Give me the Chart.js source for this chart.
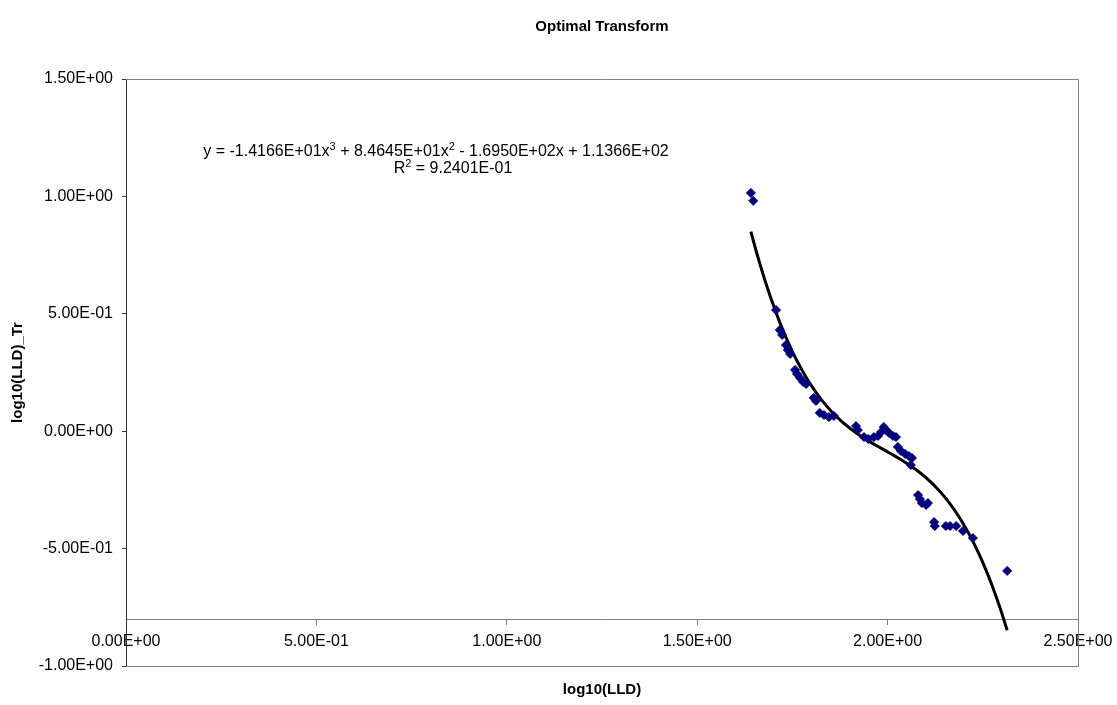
<!DOCTYPE html>
<html lang="en">
<head>
<meta charset="UTF-8">
<title>Optimal Transform</title>
<script src="https://cdn.jsdelivr.net/npm/chart.js@4.4.0/dist/chart.umd.min.js"></script>
<style>
  html, body { margin: 0; padding: 0; background: #fff; }
  #wrap { width: 1117px; height: 705px; }
</style>
</head>
<body>
<div id="wrap"><canvas id="chart" width="1117" height="705"></canvas></div>
<script>
var lldX = [1.641, 1.647, 1.707, 1.717, 1.723, 1.733, 1.738, 1.744, 1.757, 1.762,
            1.770, 1.778, 1.786, 1.806, 1.812, 1.822, 1.833, 1.846, 1.859, 1.917,
            1.922, 1.938, 1.949, 1.964, 1.975, 1.983, 1.990, 1.996, 2.004, 2.014,
            2.022, 2.027, 2.035, 2.046, 2.056, 2.064, 2.061, 2.080, 2.085, 2.090,
            2.101, 2.106, 2.122, 2.124, 2.153, 2.164, 2.180, 2.198, 2.224, 2.314];
var lldTr = [1.015, 0.981, 0.516, 0.431, 0.410, 0.367, 0.346, 0.329, 0.261, 0.244,
             0.227, 0.210, 0.201, 0.142, 0.129, 0.078, 0.069, 0.060, 0.065, 0.022,
             0.005, -0.025, -0.033, -0.025, -0.020, -0.003, 0.018, 0.005, -0.008, -0.020,
             -0.025, -0.067, -0.084, -0.097, -0.106, -0.114, -0.144, -0.272, -0.289, -0.306,
             -0.314, -0.306, -0.387, -0.404, -0.404, -0.404, -0.404, -0.425, -0.455, -0.595];

// polynomial trendline as printed on the chart: x^3, x^2, x, const
var fitCoef = [-14.166, 84.645, -169.50, 113.66];
var fitFrom = 1.641, fitTo = 2.314;

var xTickLabels = ['0.00E+00', '5.00E-01', '1.00E+00', '1.50E+00', '2.00E+00', '2.50E+00'];
var yTickLabels = ['-1.00E+00', '-5.00E-01', '0.00E+00', '5.00E-01', '1.00E+00', '1.50E+00'];

// equation text, split into normal / superscript runs
var eqRuns = [['y = -1.4166E+01x', 0], ['3', 1], [' + 8.4645E+01x', 0], ['2', 1],
              [' - 1.6950E+02x + 1.1366E+02', 0]];
var r2Runs = [['R', 0], ['2', 1], [' = 9.2401E-01', 0]];

var points = [];
for (var i = 0; i < lldX.length; i++) {
    points.push({x: lldX[i], y: lldTr[i]});
}

var trend = [];
var steps = 80;
for (var s = 0; s <= steps; s++) {
    var x = fitFrom + (fitTo - fitFrom) * s / steps;
    var y = fitCoef[0]*x*x*x + fitCoef[1]*x*x + fitCoef[2]*x + fitCoef[3];
    trend.push({x: x, y: y});
}

var FONT = '"Liberation Sans", Arial, sans-serif';

function drawRuns(ctx, runs, cx, baseline) {
    var normal = '16px ' + FONT, small = '11px ' + FONT;
    var total = 0;
    runs.forEach(function(r) {
        ctx.font = r[1] ? small : normal;
        total += ctx.measureText(r[0]).width;
    });
    var x = cx - total / 2;
    runs.forEach(function(r) {
        ctx.font = r[1] ? small : normal;
        ctx.fillText(r[0], x, r[1] ? baseline - 6 : baseline);
        x += ctx.measureText(r[0]).width;
    });
}

// grey plot frame + trendline equation
var framePlugin = {
    id: 'frame',
    beforeDatasetsDraw: function(chart) {
        var a = chart.chartArea;
        var ctx = chart.ctx;
        ctx.save();
        ctx.strokeStyle = '#808080';
        ctx.lineWidth = 1;
        ctx.beginPath();
        ctx.moveTo(a.left, a.top + 0.5);
        ctx.lineTo(a.right + 0.5, a.top + 0.5);
        ctx.lineTo(a.right + 0.5, a.bottom + 0.5);
        ctx.lineTo(a.left, a.bottom + 0.5);
        ctx.stroke();

        ctx.fillStyle = '#000';
        ctx.textAlign = 'left';
        ctx.textBaseline = 'alphabetic';
        drawRuns(ctx, eqRuns, a.left + 310, a.top + 77);
        drawRuns(ctx, r2Runs, a.left + 327, a.top + 94);
        ctx.restore();
    }
};

new Chart(document.getElementById('chart'), {
    type: 'scatter',
    data: {
        datasets: [{
            label: 'log10(LLD)_Tr',
            data: points,
            pointStyle: 'rectRot',
            pointRadius: 4.5,
            backgroundColor: '#000080',
            borderColor: '#000080',
            borderWidth: 1
        }, {
            label: 'Poly. (log10(LLD)_Tr)',
            data: trend,
            showLine: true,
            borderColor: '#000000',
            borderWidth: 3,
            pointRadius: 0,
            tension: 0
        }]
    },
    options: {
        responsive: false,
        animation: false,
        layout: { padding: { left: 0, right: 39, top: 0, bottom: 0 } },
        plugins: {
            legend: { display: false },
            tooltip: { enabled: false },
            title: {
                display: true,
                text: 'Optimal Transform',
                fullSize: false,
                color: '#000',
                font: { family: FONT, size: 15, weight: 'bold' },
                padding: { top: 18, bottom: 43 }
            },
            subtitle: {
                display: true,
                position: 'bottom',
                text: 'log10(LLD)',
                fullSize: false,
                color: '#000',
                font: { family: FONT, size: 15, weight: 'bold' },
                padding: { top: 15, bottom: 6 }
            }
        },
        scales: {
            x: {
                type: 'linear',
                position: { y: -0.8 },
                min: 0,
                max: 2.5,
                afterFit: function(scale) { scale.paddingRight = 30; scale.paddingLeft = 30; },
                ticks: {
                    stepSize: 0.5,
                    color: '#000',
                    padding: 8,
                    maxRotation: 0,
                    font: { family: FONT, size: 16 },
                    callback: function(v, i) { return xTickLabels[i]; }
                },
                grid: { drawOnChartArea: false, drawTicks: true, tickLength: 5, color: '#808080' },
                border: { display: true, color: '#808080', width: 1 }
            },
            y: {
                type: 'linear',
                position: 'left',
                min: -1,
                max: 1.5,
                afterFit: function(scale) { scale.width = 126; },
                ticks: {
                    stepSize: 0.5,
                    color: '#000',
                    padding: 9,
                    font: { family: FONT, size: 16 },
                    callback: function(v, i) { return yTickLabels[i]; }
                },
                grid: { drawOnChartArea: false, drawTicks: true, tickLength: 4, color: '#333' },
                border: { display: true, color: '#333', width: 1 },
                title: {
                    display: true,
                    text: 'log10(LLD)_Tr',
                    color: '#000',
                    font: { family: FONT, size: 15, weight: 'bold' },
                    padding: { top: 9, bottom: 0 }
                }
            }
        }
    },
    plugins: [framePlugin]
});
</script>
</body>
</html>
